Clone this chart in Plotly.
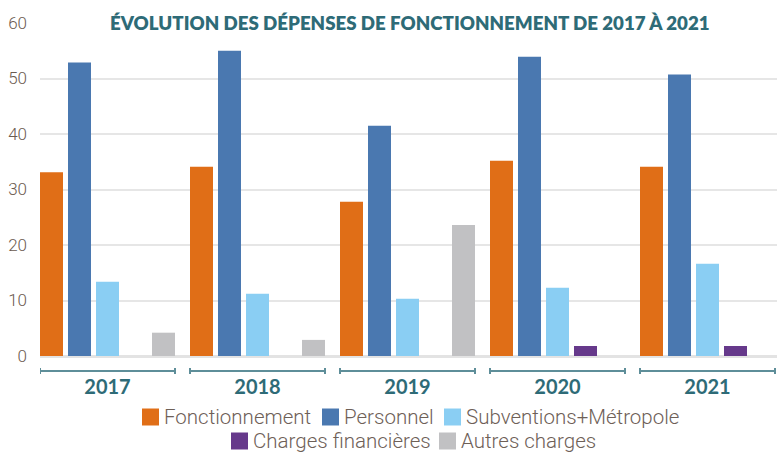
import plotly.graph_objects as go

# ---- data ----
years = ["2017", "2018", "2019", "2020", "2021"]
fonctionnement = [33.1, 34.1, 27.8, 35.2, 34.1]
personnel = [52.9, 55.0, 41.5, 53.9, 50.7]
subventions = [13.4, 11.2, 10.3, 12.3, 16.6]
charges_fin = [None, None, None, 1.8, 1.8]
autres = [4.2, 2.9, 23.6, None, None]

series_names = ["Fonctionnement", "Personnel", "Subventions+Métropole",
                "Charges financières", "Autres charges"]
series_values = [fonctionnement, personnel, subventions, charges_fin, autres]
series_colors = ["#E06E17", "#4A78B0", "#8ACEF3", "#66398B", "#C1C1C3"]

title_text = "ÉVOLUTION DES DÉPENSES DE FONCTIONNEMENT DE 2017 À 2021"

# ---- geometry (pixels of the 777x452 canvas) ----
W, H = 777, 452
L, R, T, B = 40, 0, 23, 96
PW, PH = W - L - R, H - T - B

def px_x(p):
    return (p - L) / PW

def px_y(p):
    return (H - B - p) / PH

fig = go.Figure()
for name, vals, col in zip(series_names, series_values, series_colors):
    fig.add_trace(go.Bar(x=years, y=vals, name=name, marker=dict(color=col, line=dict(width=0)),
                         showlegend=False))

x_lo = -0.45
x_hi = x_lo + PW / 150.0

fig.update_layout(
    width=W, height=H,
    margin=dict(l=L, r=R, t=T, b=B, pad=0, autoexpand=False),
    paper_bgcolor="white", plot_bgcolor="white",
    barmode="group", bargap=1/15, bargroupgap=5/28,
    xaxis=dict(type="category", range=[x_lo, x_hi], showgrid=False, showline=False,
               zeroline=False, ticks="", ticklabelstandoff=17, automargin=False,
               tickfont=dict(family="Lato", size=20, color="#2E6B77", weight=700)),
    yaxis=dict(range=[0, 60], dtick=10, showgrid=True, gridcolor="#E6E6E6", gridwidth=2,
               zeroline=True, zerolinecolor="#E3E3E3", zerolinewidth=3, showline=False,
               ticks="", ticklabelstandoff=12, automargin=False,
               tickfont=dict(family="Roboto", size=17, color="#6B5B50", weight=300)),
    font=dict(family="Roboto"),
)

# title on the top gridline with white background
fig.add_annotation(xref="paper", yref="y", x=px_x(410), y=60, text=title_text,
                   showarrow=False, xanchor="center", yanchor="middle",
                   font=dict(family="Lato", size=18.7, color="#2E6B77", weight=800),
                   bgcolor="white", borderpad=12)

# brackets under each year
by = px_y(371)
tick_h = 3 / PH
for i, _ in enumerate(years):
    x0, x1 = i - 0.45, i + 0.45
    fig.add_shape(type="line", xref="x", yref="paper", x0=x0, x1=x1, y0=by, y1=by,
                  line=dict(color="#5E8E99", width=2))
    for xe in (x0, x1):
        fig.add_shape(type="line", xref="x", yref="paper", x0=xe, x1=xe,
                      y0=by - tick_h, y1=by + tick_h, line=dict(color="#5E8E99", width=2))

# custom legend (two centred rows)
legend_pos = [(142, 417), (322, 417), (444, 417), (231, 441), (439, 441)]
sq = 17
for (lx, ly), name, col in zip(legend_pos, series_names, series_colors):
    fig.add_shape(type="rect", xref="paper", yref="paper",
                  x0=px_x(lx), x1=px_x(lx + sq), y0=px_y(ly - sq / 2), y1=px_y(ly + sq / 2),
                  fillcolor=col, line=dict(width=0))
    fig.add_annotation(xref="paper", yref="paper", x=px_x(lx + sq + 3), y=px_y(ly),
                       text=name, showarrow=False, xanchor="left", yanchor="middle",
                       font=dict(family="Roboto", size=20.5, color="#6E6057", weight=300))

fig.write_html("out.html", config={"displayModeBar": False},
               post_script="document.body.style.margin='0';document.body.style.overflow='hidden';")
